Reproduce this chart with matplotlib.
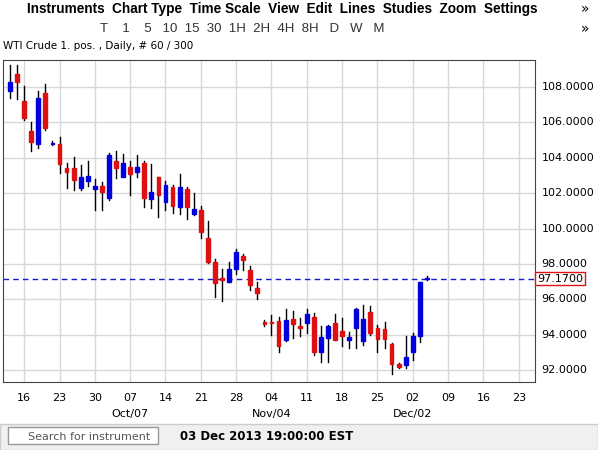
import matplotlib
matplotlib.use("Agg")
import matplotlib.pyplot as plt
from matplotlib.patches import Rectangle

opens  = [107.77,108.73,107.2,105.5,104.8,107.66,104.8,104.78,103.42,103.42,102.29,102.69,102.23,102.4,101.72,103.8,102.9,103.5,103.2,103.7,
          101.67,102.9,101.5,102.35,101.2,102.23,100.82,101.05,99.46,98.1,97.2,96.96,97.7,98.45,97.66,96.64,94.7,94.7,94.77,93.7,
          94.9,94.5,94.66,95.0,93.02,93.8,94.66,94.2,93.7,94.4,93.64,95.28,94.38,94.3,93.47,92.34,92.28,93.0,93.93,97.15]
closes = [108.28,108.28,106.25,104.9,107.4,105.68,104.85,103.65,103.2,102.74,102.91,102.97,102.4,102.06,104.16,103.4,103.7,103.1,103.5,101.72,
          102.06,101.9,102.46,101.27,102.35,101.2,101.1,99.8,98.1,96.9,97.1,97.7,98.7,98.22,96.8,96.36,94.6,94.68,93.36,94.83,
          94.6,94.4,95.17,93.0,93.87,94.5,93.7,93.9,93.87,95.45,94.9,94.1,93.75,93.75,92.34,92.17,92.74,93.93,96.98,97.2]
highs  = [109.24,109.24,108.05,106.0,107.8,108.2,104.95,105.17,103.7,104.04,103.6,103.8,102.8,102.63,104.27,104.4,104.2,103.8,104.15,103.8,
          103.65,102.9,102.7,102.46,103.1,102.35,102.0,101.27,100.4,98.3,97.7,98.1,98.84,98.56,97.9,97.0,94.8,95.1,95.0,95.45,
          95.34,94.94,95.45,95.2,94.5,94.55,95.17,94.94,94.15,95.5,95.7,95.6,94.55,94.72,93.53,92.4,93.93,94.1,97.0,97.3]
lows   = [107.38,107.32,106.13,104.4,104.55,105.57,104.7,103.14,102.3,102.18,102.2,102.4,101.05,101.05,101.6,102.85,103.0,101.9,102.9,101.2,
          101.15,100.65,101.05,100.87,100.8,100.54,100.76,99.46,98.05,96.1,95.9,96.98,97.4,97.66,96.53,96.0,94.5,94.0,93.0,93.64,
          93.8,93.92,94.1,92.85,92.45,92.45,93.7,93.36,93.25,93.25,93.4,93.98,93.0,93.25,91.8,92.1,92.1,92.57,93.6,97.1]
tick_idx = [2,7,12,17,22,27,32,37,42,47,52,57,62,67,72]
tick_labels = ["16","23","30","07","14","21","28","04","11","18","25","02","09","16","23"]
month_idx = [17,37,57]
month_labels = ["Oct/07","Nov/04","Dec/02"]
yticks = [92,94,96,98,100,102,104,106,108]
last_price = 97.17

W,H = 598,450
fig = plt.figure(figsize=(W/100,H/100), dpi=100)
fig.patch.set_facecolor("white")
ax = fig.add_axes([3/W, 1-382/H, 532/W, 322/H])
ax.set_xlim(-1, 74.3)
ax.set_ylim(91.32, 109.53)
for t in tick_idx: ax.axvline(t, color="#d8d8d8", lw=1, zorder=0)
for y in yticks: ax.axhline(y, color="#d8d8d8", lw=1, zorder=0)
for i,(o,c,h,l) in enumerate(zip(opens,closes,highs,lows)):
    col = "#0000dd" if c>=o else "#dd1111"
    ax.plot([i,i],[l,h], color="black", lw=1, zorder=2)
    b = max(abs(c-o), 0.06)
    ax.add_patch(Rectangle((i-0.27, min(o,c)), 0.54, b, color=col, zorder=3))
ax.axhline(last_price, color="#1a1acc", ls=(0,(4,3)), lw=1, zorder=1)
ax.set_xticks([]); ax.set_yticks([])
for s in ax.spines.values(): s.set_color("#444444")
for t,lab in zip(tick_idx,tick_labels):
    ax.text(t, -0.035, lab, transform=ax.get_xaxis_transform(), ha="center", va="top", fontsize=8)
for t,lab in zip(month_idx,month_labels):
    ax.text(t, -0.085, lab, transform=ax.get_xaxis_transform(), ha="center", va="top", fontsize=8)
for y in yticks:
    ax.text(1.012, y, f"{y:.4f}", transform=ax.get_yaxis_transform(), ha="left", va="center", fontsize=8)
ax.text(1.004, last_price, f"{last_price:.4f}", transform=ax.get_yaxis_transform(), ha="left", va="center",
        fontsize=8, bbox=dict(boxstyle="square,pad=0.15", fc="white", ec="#dd1111", lw=1))

# toolbar
fig.text(27/W, 1-9/H, "Instruments  Chart Type  Time Scale  View  Edit  Lines  Studies  Zoom  Settings",
         fontsize=9.8, fontweight="bold", va="center", ha="left", family="Liberation Sans")
fig.text(585/W, 1-9/H, "»", fontsize=10, va="center", ha="center")
fig.text(100/W, 1-29/H, "T    1    5   10  15  30  1H  2H  4H  8H   D   W   M", fontsize=9.5,
         va="center", ha="left", color="#333333", family="Liberation Sans")
fig.text(585/W, 1-29/H, "»", fontsize=10, va="center", ha="center")
fig.text(3/W, 1-46/H, "WTI Crude 1. pos. , Daily, # 60 / 300", fontsize=7.5, va="center", ha="left")
# bottom bar
fig.patches.append(Rectangle((0,0),1,26/H, transform=fig.transFigure, fc="#f0f0f0", ec="#cccccc"))
fig.patches.append(Rectangle((8/W,6/H),150/W,17/H, transform=fig.transFigure, fc="white", ec="#999999"))
fig.text(28/W, 13.5/H, "Search for instrument", fontsize=8, va="center", color="#555555")
fig.text(180/W, 13.5/H, "03 Dec 2013 19:00:00 EST", fontsize=8.5, fontweight="bold", va="center")
fig.savefig("out.png", dpi=100)
